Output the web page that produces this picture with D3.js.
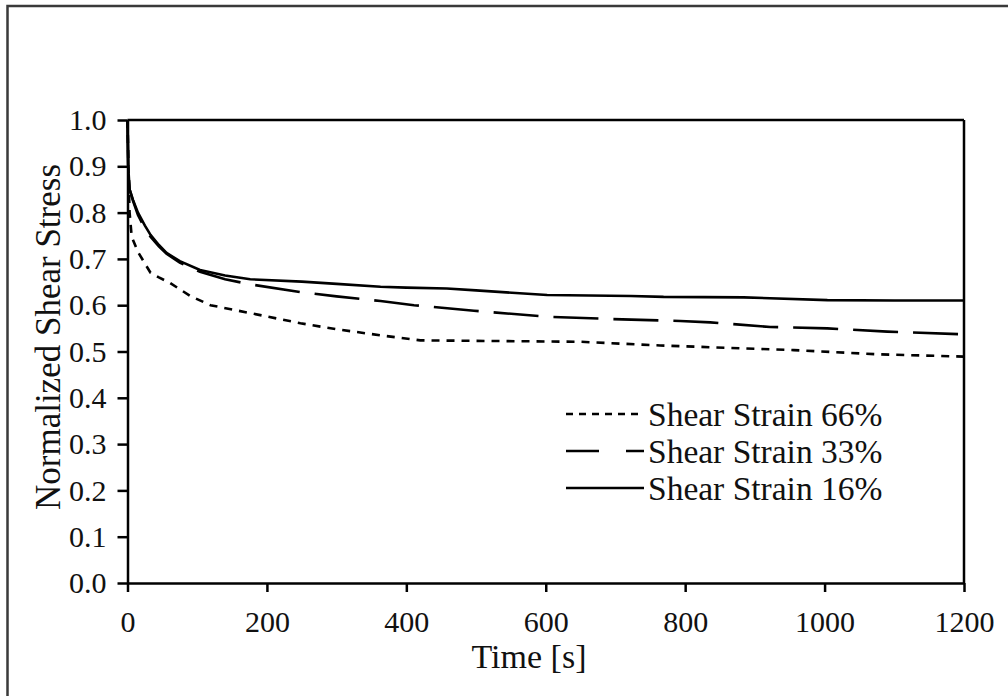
<!DOCTYPE html>
<html><head><meta charset="utf-8">
<script src="https://cdn.jsdelivr.net/npm/d3@7/dist/d3.min.js"></script>
<style>html,body{margin:0;padding:0;background:#fff;}svg{display:block;}</style>
</head><body>
<svg id="c" width="1008" height="696"></svg>
<script>
// ---- data ----
const xTicks = [0, 200, 400, 600, 800, 1000, 1200];
const yTicks = [0.0, 0.1, 0.2, 0.3, 0.4, 0.5, 0.6, 0.7, 0.8, 0.9, 1.0];
const seriesNames = ["Shear Strain 66%", "Shear Strain 33%", "Shear Strain 16%"];
const t66 = [0, 2, 3, 6, 15, 25, 33, 45, 61, 90, 119, 176, 248, 300, 363, 420, 500, 650, 764, 956, 1075, 1200];
const v66 = [1.0, 0.85, 0.80, 0.748, 0.715, 0.69, 0.670, 0.66, 0.648, 0.62, 0.600, 0.583, 0.561, 0.548, 0.535, 0.524, 0.523, 0.521, 0.513, 0.503, 0.494, 0.489];
const t33 = [0, 1, 3, 8, 15, 25, 33, 45, 56, 75, 104, 140, 176, 250, 300, 363, 411, 497, 602, 697, 793, 836, 922, 1004, 1090, 1200];
const v33 = [1.0, 0.90, 0.85, 0.825, 0.795, 0.765, 0.748, 0.727, 0.711, 0.692, 0.672, 0.656, 0.645, 0.628, 0.619, 0.609, 0.600, 0.588, 0.575, 0.570, 0.566, 0.563, 0.553, 0.550, 0.543, 0.537];
const t16 = [0, 1, 3, 8, 15, 25, 33, 45, 56, 75, 104, 140, 176, 250, 300, 363, 400, 458, 500, 602, 722, 769, 884, 1004, 1100, 1200];
const v16 = [1.0, 0.90, 0.85, 0.827, 0.80, 0.772, 0.752, 0.73, 0.713, 0.695, 0.676, 0.664, 0.656, 0.651, 0.646, 0.640, 0.638, 0.636, 0.632, 0.622, 0.620, 0.618, 0.617, 0.611, 0.610, 0.610];

const series = [
  {name: seriesNames[0], t: t66, v: v66, dash: "8,7", legDash: "7,6"},
  {name: seriesNames[1], t: t33, v: v33, dash: "45,15", legDash: "33,27"},
  {name: seriesNames[2], t: t16, v: v16, dash: null, legDash: null}
];

// ---- layout ----
const L = 127.5, R = 964, T = 120, B = 583;
const svg = d3.select("#c");
const font = "'Liberation Serif','Times New Roman',serif";

// outer frame
svg.append("rect").attr("x", 7.5).attr("y", 6).attr("width", 1020).attr("height", 720)
  .attr("fill", "none").attr("stroke", "#3a3a3a").attr("stroke-width", 2.5);

const x = d3.scaleLinear().domain([0, 1200]).range([L, R]);
const y = d3.scaleLinear().domain([0, 1]).range([B, T]);

// plot box top/right
svg.append("line").attr("x1", L).attr("x2", R).attr("y1", T).attr("y2", T).attr("stroke", "#000").attr("stroke-width", 2.5);
svg.append("line").attr("x1", R).attr("x2", R).attr("y1", T).attr("y2", B).attr("stroke", "#000").attr("stroke-width", 2.5);

// axes
const xAxis = d3.axisBottom(x).tickValues(xTicks).tickFormat(d3.format("d")).tickSizeInner(9).tickSizeOuter(0).tickPadding(19);
const yAxis = d3.axisLeft(y).tickValues(yTicks).tickFormat(d3.format(".1f")).tickSizeInner(10).tickSizeOuter(0).tickPadding(11);

const gx = svg.append("g").attr("transform", `translate(0,${B})`).call(xAxis);
const gy = svg.append("g").attr("transform", `translate(${L},0)`).call(yAxis);
[gx, gy].forEach(g => {
  g.select(".domain").attr("stroke", "#000").attr("stroke-width", 2.5);
  g.selectAll(".tick line").attr("stroke", "#000").attr("stroke-width", 2.5);
  g.selectAll(".tick text").attr("fill", "#111").style("font-family", font).style("font-size", "30px");
});

// lines
const line = d3.line().x((d) => x(d[0])).y((d) => y(d[1]));
series.forEach(s => {
  const pts = s.t.map((t, i) => [t, s.v[i]]);
  svg.append("path").datum(pts).attr("d", line)
    .attr("fill", "none").attr("stroke", "#000").attr("stroke-width", 2.6)
    .attr("stroke-dasharray", s.dash);
});

// legend
const legX1 = 566, legX2 = 644, legY0 = 414, legDy = 37;
series.forEach((s, i) => {
  const yy = legY0 + i * legDy;
  svg.append("line").attr("x1", legX1).attr("x2", legX2).attr("y1", yy).attr("y2", yy)
    .attr("stroke", "#000").attr("stroke-width", 2.6).attr("stroke-dasharray", s.legDash);
  svg.append("text").attr("x", legX2 + 4).attr("y", yy).attr("dy", "0.35em")
    .style("font-family", font).style("font-size", "33.5px").attr("fill", "#111").text(s.name);
});

// axis titles
svg.append("text").attr("x", 529).attr("y", 668).attr("text-anchor", "middle")
  .style("font-family", font).style("font-size", "34px").attr("fill", "#111").text("Time [s]");
svg.append("text").attr("transform", `translate(60,337) rotate(-90)`).attr("text-anchor", "middle")
  .style("font-family", font).style("font-size", "35px").attr("fill", "#111").text("Normalized Shear Stress");
</script>
</body></html>
